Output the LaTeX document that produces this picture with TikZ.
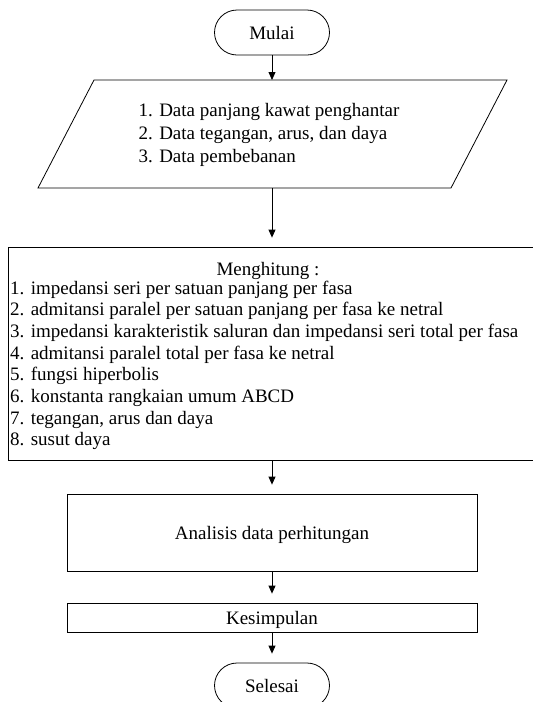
\documentclass[tikz,border=0pt]{standalone}
\usepackage{fontspec}
\setmainfont{Liberation Serif}
\usetikzlibrary{arrows.meta,shapes.misc}
\begin{document}
\begin{tikzpicture}[x=1pt,y=-1pt,
  txt/.style={font=\fontsize{19}{21.7}\selectfont, inner sep=0pt},
  boxnode/.style={draw, line width=0.8pt, inner sep=0pt, text depth=0pt, font=\fontsize{19}{21.7}\selectfont},
  term/.style={rounded rectangle, draw, line width=0.8pt, inner sep=0pt, text depth=0pt,
    minimum width=115pt, minimum height=45pt, font=\fontsize{19}{21.7}\selectfont},
  flow/.style={-{Triangle[width=7pt,length=8pt]}, line width=0.8pt},
  gapped/.style={shorten >=9pt}
]
\useasboundingbox (0,0) rectangle (533,702);

\node[term] (mulai) at (272,32.5) {Mulai};

\draw[line width=0.8pt] (94,80) -- (507,80) -- (451,188) -- (38,188) -- cycle;
\coordinate (inptop) at (272,80);
\coordinate (inpbot) at (272,188);
\node[inner sep=0pt, align=left, font=\fontsize{19}{23}\selectfont] (inp) at (269,135)
  {1. Data panjang kawat penghantar\\2. Data tegangan, arus, dan daya\\3. Data pembebanan};

\node[boxnode, minimum width=528pt, minimum height=213pt] (calc) at (272,353.5) {};
\node[txt, anchor=base] (calctitle) at (268,275) {Menghitung :};
\foreach \t [count=\i] in {impedansi seri per satuan panjang per fasa,
  admitansi paralel per satuan panjang per fasa ke netral,
  impedansi karakteristik saluran dan impedansi seri total per fasa,
  admitansi paralel total per fasa ke netral,
  fungsi hiperbolis,
  konstanta rangkaian umum ABCD,
  {tegangan, arus dan daya},
  susut daya}
  \node[txt, anchor=base west] (item\i) at (10,{294+21.7*(\i-1)}) {\i. \t};

\node[boxnode, minimum width=410pt, minimum height=77pt] (anal) at (272,532.5) {Analisis data perhitungan};
\node[boxnode, minimum width=410pt, minimum height=29pt] (kes) at (272,617.5) {Kesimpulan};
\node[term] (sel) at (272,685.5) {Selesai};

\draw[flow] (mulai.south) -- (inptop);
\draw[flow, gapped] (inpbot) -- (calc.north);
\draw[flow, gapped] (calc.south) -- (anal.north);
\draw[flow, gapped] (anal.south) -- (kes.north);
\draw[flow, gapped] (kes.south) -- (sel.north);
\end{tikzpicture}
\end{document}
